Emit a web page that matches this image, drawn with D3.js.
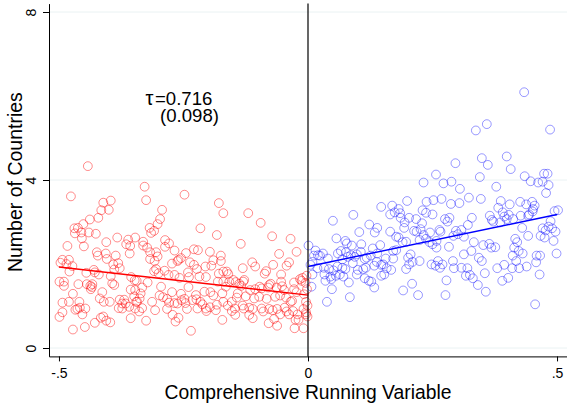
<!DOCTYPE html>
<html>
<head>
<meta charset="utf-8">
<script src="https://cdn.jsdelivr.net/npm/d3@7"></script>
<style>
  html, body { margin: 0; padding: 0; background: #fff; }
  svg { display: block; font-family: "Liberation Sans", Arial, Helvetica, sans-serif; }
</style>
</head>
<body>
<svg id="chart" width="567" height="404"></svg>
<script>
// ---------------- DATA ----------------
const xTickValues = [-0.5, 0, 0.5];
const xTickLabels = ["-.5", "0", ".5"];
const yTickValues = [0, 4, 8];
const yTickLabels = ["0", "4", "8"];
const xTitle = "Comprehensive Running Variable";
const yTitle = "Number of Countries";
const annotationSymbol = "τ";
const annotationEstimate = "=0.716";
const annotationSE = "(0.098)";

// Left of cutoff (red)
const redPoints = [
[-0.442,4.33],[-0.476,3.61],[-0.411,3.46],[-0.396,3.51],[-0.415,3.28],[-0.400,3.29],[-0.421,3.10],[-0.438,3.06],[-0.451,2.95],[-0.469,2.85],
[-0.462,2.86],[-0.468,2.73],[-0.455,2.75],[-0.440,2.75],[-0.426,2.72],[-0.454,2.61],[-0.450,2.42],[-0.483,2.43],[-0.405,2.52],[-0.383,2.63],
[-0.361,2.58],[-0.347,2.63],[-0.365,2.47],[-0.357,2.43],[-0.358,2.25],[-0.424,2.28],[-0.422,2.20],[-0.406,2.25],[-0.386,2.20],[-0.404,2.12],
[-0.493,2.10],[-0.480,2.10],[-0.497,2.03],[-0.485,2.00],[-0.473,1.95],[-0.479,1.82],[-0.381,2.02],[-0.391,1.99],[-0.378,1.90],[-0.389,1.87],
[-0.430,1.86],[-0.428,1.80],[-0.420,1.75],[-0.445,1.79],[-0.499,1.58],[-0.490,1.58],[-0.490,1.48],[-0.461,1.52],[-0.444,1.52],[-0.437,1.48],
[-0.434,1.45],[-0.433,1.52],[-0.436,1.40],[-0.413,1.33],[-0.396,1.71],[-0.393,1.54],[-0.389,1.50],[-0.355,1.69],[-0.348,1.61],[-0.347,1.38],
[-0.356,1.39],[-0.472,1.29],[-0.493,1.08],[-0.480,1.10],[-0.459,1.10],[-0.463,0.93],[-0.467,0.91],[-0.458,0.96],[-0.447,0.94],[-0.453,0.80],
[-0.493,0.85],[-0.499,0.74],[-0.472,0.44],[-0.448,0.50],[-0.428,0.60],[-0.416,0.72],[-0.411,0.75],[-0.405,0.65],[-0.397,0.61],[-0.356,0.71],
[-0.378,1.15],[-0.373,1.06],[-0.369,1.15],[-0.366,1.06],[-0.359,0.98],[-0.380,0.95],[-0.373,0.94],[-0.418,1.18],[-0.410,1.10],[-0.398,1.10],
[-0.349,1.23],[-0.345,1.10],[-0.347,0.94],
[-0.328,3.84],[-0.325,3.52],[-0.248,3.65],[-0.293,3.29],[-0.297,3.07],[-0.302,2.95],[-0.318,2.86],[-0.315,2.74],[-0.309,2.79],[-0.179,3.45],
[-0.170,3.21],[-0.216,2.85],[-0.183,2.69],[-0.331,2.53],[-0.331,2.44],[-0.323,2.39],[-0.317,2.28],[-0.305,2.28],[-0.302,2.18],[-0.317,2.12],
[-0.308,2.07],[-0.287,2.57],[-0.279,2.49],[-0.287,2.41],[-0.268,2.32],[-0.245,2.26],[-0.229,2.35],[-0.221,2.33],[-0.197,2.29],[-0.175,2.20],
[-0.190,2.09],[-0.175,2.07],[-0.194,1.96],[-0.273,2.01],[-0.260,2.10],[-0.255,2.14],[-0.262,2.07],[-0.237,2.04],[-0.229,1.98],[-0.223,1.88],
[-0.206,1.94],[-0.309,1.83],[-0.305,1.88],[-0.300,1.78],[-0.288,1.84],[-0.280,1.74],[-0.268,1.74],[-0.258,1.67],[-0.241,1.80],[-0.239,1.69],
[-0.218,1.70],[-0.205,1.69],[-0.179,1.77],[-0.170,1.82],[-0.181,1.58],[-0.170,1.58],[-0.344,1.60],[-0.322,1.56],[-0.333,1.44],[-0.336,1.30],
[-0.338,1.18],[-0.343,1.10],[-0.333,0.95],[-0.339,0.87],[-0.325,0.65],[-0.295,1.46],[-0.273,1.33],[-0.255,1.29],[-0.240,1.45],[-0.225,1.26],
[-0.208,1.34],[-0.196,1.33],[-0.190,1.25],[-0.172,1.30],[-0.313,1.10],[-0.298,1.25],[-0.291,1.21],[-0.283,1.17],[-0.279,1.08],[-0.268,1.07],
[-0.262,1.06],[-0.254,1.14],[-0.248,1.17],[-0.246,1.07],[-0.232,1.14],[-0.224,1.16],[-0.216,1.10],[-0.212,1.04],[-0.205,0.94],[-0.197,0.97],
[-0.183,1.03],[-0.185,0.90],[-0.204,0.88],[-0.222,0.94],[-0.243,0.93],[-0.283,0.93],[-0.307,0.90],[-0.272,0.79],[-0.260,0.72],[-0.266,0.63],
[-0.235,0.41],[-0.170,1.10],[-0.172,0.67],
[-0.120,3.21],[-0.095,2.98],[-0.072,2.66],[-0.035,2.60],[-0.135,2.48],[-0.058,2.24],[-0.023,2.29],[-0.112,2.04],[-0.106,1.94],[-0.131,1.90],
[-0.070,1.98],[-0.084,1.83],[-0.087,1.77],[-0.054,1.75],[-0.043,1.96],[-0.038,2.04],[-0.028,1.56],[-0.016,1.64],[-0.013,1.60],[-0.011,1.67],
[-0.163,1.82],[-0.160,1.76],[-0.158,1.58],[-0.150,1.62],[-0.145,1.57],[-0.138,1.53],[-0.134,1.48],[-0.130,1.58],[-0.128,1.62],[-0.165,1.46],
[-0.116,1.38],[-0.106,1.40],[-0.097,1.46],[-0.093,1.42],[-0.078,1.50],[-0.075,1.53],[-0.080,1.44],[-0.063,1.44],[-0.054,1.58],[-0.052,1.47],
[-0.048,1.38],[-0.028,1.40],[-0.023,1.33],[-0.141,1.30],[-0.143,1.20],[-0.125,1.23],[-0.108,1.18],[-0.098,1.22],[-0.083,1.17],[-0.066,1.22],
[-0.056,1.25],[-0.044,1.20],[-0.035,1.10],[-0.032,1.12],[-0.008,1.28],[-0.004,1.10],[-0.001,1.01],[-0.161,1.01],[-0.153,1.10],[-0.147,0.94],
[-0.153,0.88],[-0.131,1.01],[-0.129,0.94],[-0.118,0.96],[-0.111,0.93],[-0.118,0.79],[-0.111,0.71],[-0.093,0.94],[-0.090,0.87],[-0.078,0.93],
[-0.071,0.90],[-0.062,0.93],[-0.056,0.80],[-0.047,0.96],[-0.043,0.87],[-0.038,0.80],[-0.030,0.88],[-0.021,0.80],[-0.019,0.67],[-0.009,0.93],
[-0.004,0.80],[-0.146,0.79],[-0.079,0.59],[-0.062,0.53],[-0.068,0.69],[-0.027,0.47],[-0.025,0.67],[-0.009,0.47],[-0.001,0.75],
[-0.003,1.72],[-0.005,1.55],[-0.002,1.40],[-0.004,0.85]
];

// Right of cutoff (blue)
const bluePoints = [
[0.147,3.36],[0.169,3.39],[0.165,3.18],[0.091,3.17],[0.050,3.03],[0.123,2.94],[0.139,2.86],[0.134,2.75],[0.103,2.76],[0.057,2.61],
[0.075,2.55],[0.078,2.49],[0.088,2.44],[0.107,2.47],[0.145,2.45],[0.130,2.37],[0.165,2.77],[0.001,2.44],[0.015,2.32],[0.020,2.21],
[0.030,2.25],[0.024,2.20],[0.012,2.20],[0.009,2.05],[0.040,2.13],[0.060,2.25],[0.066,2.31],[0.076,2.28],[0.086,2.21],[0.098,2.23],
[0.106,2.29],[0.118,2.15],[0.126,2.20],[0.139,2.25],[0.156,2.13],[0.151,1.99],[0.171,2.13],[0.114,2.12],[0.094,2.17],[0.080,2.17],
[0.069,2.11],[0.005,1.98],[0.019,1.90],[0.009,1.75],[0.032,1.91],[0.042,1.88],[0.051,1.85],[0.059,1.94],[0.069,1.91],[0.075,1.88],
[0.090,2.02],[0.100,1.86],[0.111,1.88],[0.116,1.91],[0.133,1.96],[0.138,2.05],[0.147,1.98],[0.158,1.90],[0.167,1.86],[0.033,1.75],
[0.045,1.70],[0.056,1.72],[0.064,1.75],[0.071,1.70],[0.035,1.60],[0.047,1.64],[0.098,1.75],[0.114,1.66],[0.122,1.60],[0.147,1.72],
[0.153,1.75],[0.007,1.46],[0.048,1.40],[0.082,1.56],[0.127,1.58],[0.133,1.44],[0.084,1.21],[0.038,1.10],
[0.337,5.18],[0.296,4.40],[0.257,4.13],[0.232,3.94],[0.272,3.92],[0.288,3.96],[0.305,3.79],[0.199,3.50],[0.182,3.31],[0.174,3.23],
[0.185,3.21],[0.238,3.48],[0.252,3.52],[0.268,3.55],[0.287,3.43],[0.304,3.45],[0.323,3.58],[0.230,3.28],[0.237,3.22],[0.250,3.18],
[0.186,3.10],[0.194,2.99],[0.203,3.10],[0.217,3.07],[0.229,2.97],[0.193,2.86],[0.213,2.79],[0.226,2.83],[0.218,2.77],[0.245,2.75],
[0.264,2.81],[0.266,2.77],[0.275,3.07],[0.284,3.10],[0.280,3.01],[0.297,2.79],[0.308,2.81],[0.321,2.93],[0.329,3.10],[0.313,2.65],
[0.292,2.67],[0.177,2.65],[0.182,2.63],[0.190,2.52],[0.197,2.53],[0.224,2.57],[0.232,2.69],[0.237,2.60],[0.244,2.52],[0.250,2.47],
[0.258,2.55],[0.258,2.39],[0.283,2.41],[0.301,2.71],[0.333,2.52],[0.328,2.31],[0.343,2.15],[0.177,2.33],[0.171,2.31],[0.201,2.15],
[0.206,2.23],[0.210,2.05],[0.203,1.99],[0.197,1.88],[0.224,2.07],[0.248,1.99],[0.256,1.96],[0.265,1.91],[0.270,1.99],[0.261,2.07],
[0.291,2.07],[0.293,1.90],[0.308,1.91],[0.320,1.90],[0.313,2.23],[0.325,1.74],[0.331,1.66],[0.317,1.72],[0.209,1.53],[0.191,1.37],
[0.221,1.26],[0.278,1.61],[0.276,1.26],[0.341,1.50],
[0.434,6.09],[0.359,5.33],[0.486,5.20],[0.399,4.56],[0.349,4.52],[0.361,4.36],[0.407,4.26],[0.345,4.07],[0.435,4.09],[0.447,3.97],
[0.462,3.94],[0.471,3.96],[0.474,4.15],[0.481,4.15],[0.483,3.88],[0.478,3.69],[0.378,3.84],[0.347,3.55],[0.387,3.50],[0.405,3.42],
[0.426,3.48],[0.438,3.42],[0.450,3.48],[0.455,3.39],[0.382,3.34],[0.365,3.15],[0.369,3.05],[0.372,3.01],[0.391,3.23],[0.394,3.13],
[0.399,3.07],[0.403,3.17],[0.412,3.07],[0.386,2.99],[0.427,3.15],[0.430,2.86],[0.442,3.15],[0.444,3.18],[0.451,3.25],[0.452,3.31],
[0.495,3.26],[0.502,3.28],[0.487,3.02],[0.483,2.89],[0.471,2.85],[0.477,2.80],[0.490,2.85],[0.497,2.77],[0.467,2.67],[0.475,2.63],
[0.493,2.55],[0.442,2.67],[0.352,2.45],[0.364,2.48],[0.368,2.39],[0.376,2.40],[0.416,2.60],[0.420,2.52],[0.414,2.39],[0.423,2.31],
[0.431,2.25],[0.411,2.20],[0.418,2.07],[0.499,2.25],[0.459,2.20],[0.466,2.20],[0.458,2.04],[0.465,1.75],[0.349,2.07],[0.355,1.78],
[0.380,1.90],[0.394,1.98],[0.410,1.90],[0.424,1.90],[0.439,1.94],[0.390,1.60],[0.402,1.67],[0.357,1.34],[0.456,1.04]
];

// Fitted lines (endpoints)
const redFit = [[-0.5, 1.93], [0, 1.26]];
const blueFit = [[0, 1.94], [0.5, 3.18]];
const cutoff = 0;

// ---------------- CHART ----------------
const svg = d3.select("#chart");
const x = d3.scaleLinear().domain([-0.52, 0.52]).range([49, 567]);
const y = d3.scaleLinear().domain([-0.2, 8.2]).range([356.4, 3.6]);

// gridlines
svg.append("g").selectAll("line").data(yTickValues).join("line")
  .attr("x1", x(-0.52)).attr("x2", x(0.52))
  .attr("y1", d => y(d)).attr("y2", d => y(d))
  .attr("stroke", "#eaf2f3").attr("stroke-width", 1);

// points
svg.append("g").selectAll("circle").data(redPoints).join("circle")
  .attr("cx", d => x(d[0])).attr("cy", d => y(d[1])).attr("r", 4.4)
  .attr("fill", "none").attr("stroke", "#ff0000").attr("stroke-opacity", 0.45).attr("stroke-width", 1);
svg.append("g").selectAll("circle").data(bluePoints).join("circle")
  .attr("cx", d => x(d[0])).attr("cy", d => y(d[1])).attr("r", 4.4)
  .attr("fill", "none").attr("stroke", "#0000ff").attr("stroke-opacity", 0.4).attr("stroke-width", 1);

// fit lines
const line = d3.line().x(d => x(d[0])).y(d => y(d[1]));
svg.append("path").datum(redFit).attr("d", line).attr("stroke", "#ff0000").attr("stroke-width", 1.4).attr("fill", "none");
svg.append("path").datum(blueFit).attr("d", line).attr("stroke", "#0000ff").attr("stroke-width", 1.4).attr("fill", "none");

// cutoff line
svg.append("line")
  .attr("x1", x(cutoff)).attr("x2", x(cutoff))
  .attr("y1", y(8.2)).attr("y2", y(-0.2))
  .attr("stroke", "#000").attr("stroke-width", 1.2);

// axes
const xAxis = d3.axisBottom(x).tickValues(xTickValues)
  .tickFormat((d, i) => xTickLabels[i]).tickSize(5).tickSizeOuter(0);
const gx = svg.append("g").attr("transform", `translate(0,${y(-0.2)})`).call(xAxis);
gx.select(".domain").attr("stroke", "#000");
gx.selectAll(".tick line").attr("stroke", "#000");
gx.selectAll(".tick text").attr("font-size", 14).attr("fill", "#000").attr("dy", "0.95em")
  .attr("font-family", "Liberation Sans, Arial, sans-serif");

const yAxis = d3.axisLeft(y).tickValues(yTickValues)
  .tickFormat((d, i) => yTickLabels[i]).tickSize(6).tickSizeOuter(0);
const gy = svg.append("g").attr("transform", `translate(${x(-0.52)},0)`).call(yAxis);
gy.select(".domain").attr("stroke", "#000");
gy.selectAll(".tick line").attr("stroke", "#000");
gy.selectAll(".tick text")
  .attr("font-size", 14).attr("fill", "#000")
  .attr("font-family", "Liberation Sans, Arial, sans-serif")
  .attr("x", null).attr("dy", null)
  .attr("text-anchor", "middle")
  .attr("transform", "translate(-12,0) rotate(-90)")
  .attr("y", -1);

// titles
svg.append("text")
  .attr("x", x(0)).attr("y", 399)
  .attr("text-anchor", "middle").attr("font-size", 19.3).attr("fill", "#000")
  .text(xTitle);
svg.append("text")
  .attr("transform", `translate(22,${y(3.95)}) rotate(-90)`)
  .attr("text-anchor", "middle").attr("font-size", 19.5).attr("fill", "#000")
  .text(yTitle);

// annotation (two tight lines, as in the reference)
const ann = svg.append("g").attr("font-size", 18.6).attr("fill", "#000");
const l1 = ann.append("text").attr("y", 105);
l1.append("tspan").attr("x", 145.5).attr("font-size", 20).text(annotationSymbol);
l1.append("tspan").attr("x", 155).text(annotationEstimate);
ann.append("text").attr("x", 160).attr("y", 122).text(annotationSE);
</script>
</body>
</html>
